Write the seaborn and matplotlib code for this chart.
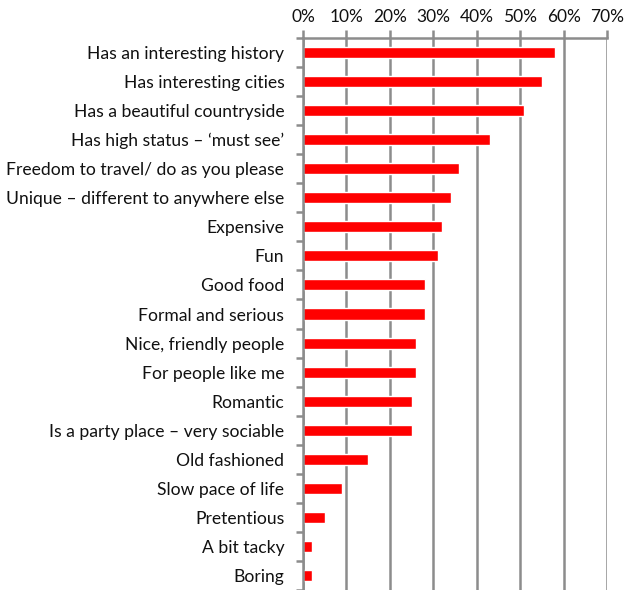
import numpy as np
import matplotlib as mpl
mpl.use('Agg')
import matplotlib.pyplot as plt
import seaborn as sns
from matplotlib.ticker import FixedLocator, PercentFormatter

attributes = ['Has an interesting history', 'Has interesting cities', 'Has a beautiful countryside',
              'Has high status \u2013 \u2018must see\u2019', 'Freedom to travel/ do as you please',
              'Unique \u2013 different to anywhere else', 'Expensive', 'Fun', 'Good food',
              'Formal and serious', 'Nice, friendly people', 'For people like me', 'Romantic',
              'Is a party place \u2013 very sociable', 'Old fashioned', 'Slow pace of life',
              'Pretentious', 'A bit tacky', 'Boring']
share = [58, 55, 51, 43, 36, 34, 32, 31, 28, 28, 26, 26, 25, 25, 15, 9, 5, 2, 2]

sns.set_style('white')
plt.rcParams['font.family'] = ['Lato', 'DejaVu Sans']

grey = '#8c8c8c'
fig = plt.figure(figsize=(6.25, 5.9), dpi=100)
ax = fig.add_axes([303 / 625, 0.0, (607 - 303) / 625, (590 - 38) / 590])

sns.barplot(x=share, y=attributes, color='#ff0000', width=0.38, ax=ax, saturation=1)

ax.set_xlim(0, 70)
ax.set_ylim(len(attributes) - 0.5, -0.5)
ax.xaxis.tick_top()
ax.set_xticks(np.arange(0, 71, 10))
ax.xaxis.set_major_formatter(PercentFormatter(decimals=0))
ax.grid(axis='x', color=grey, lw=1.8)
ax.set_axisbelow(True)
ax.tick_params(axis='x', which='major', top=True, length=6, width=1.8, color=grey,
               labelsize=12.5, pad=3, direction='out', labelcolor='#111111')

# category separators on the left spine
ax.yaxis.set_minor_locator(FixedLocator(np.arange(-0.5, len(attributes), 1)))
ax.tick_params(axis='y', which='minor', left=True, length=5, width=1.8, color=grey, direction='out')
ax.tick_params(axis='y', which='major', left=False, labelsize=12.6, pad=10, labelcolor='#111111')

for side in ['right', 'bottom']:
    ax.spines[side].set_visible(False)
for side in ['top', 'left']:
    ax.spines[side].set_color(grey)
    ax.spines[side].set_linewidth(1.8)
ax.set_xlabel('')
ax.set_ylabel('')

fig.savefig('out.png', dpi=100)
